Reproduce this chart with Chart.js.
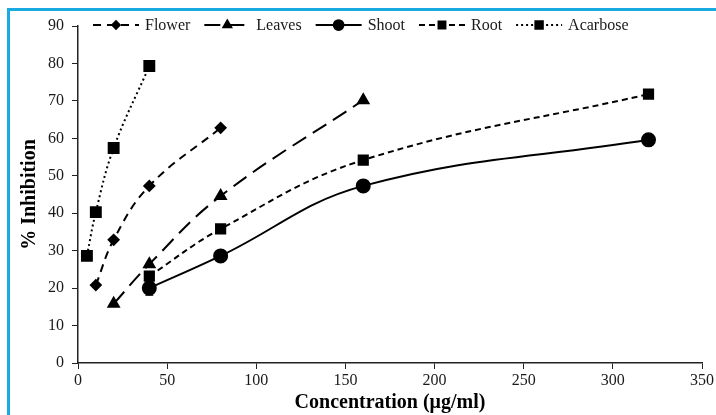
<!DOCTYPE html>
<html>
<head>
<meta charset="utf-8">
<script src="https://cdn.jsdelivr.net/npm/chart.js@4"></script>
<style>
    body { margin: 0; background: #fff; }
    #frame {
        position: absolute;
        left: 7px;
        top: 8px;
        width: 760px;
        height: 460px;
        border-left: 3px solid #1aaae2;
        border-top: 3px solid #1aaae2;
    }
    #wrap { position: absolute; left: 0; top: 0; width: 716px; height: 415px; }
</style>
</head>
<body>
<div id="frame"></div>
<div id="wrap"><canvas id="chart" width="716" height="415"></canvas></div>
<script>
// concentrations (µg/ml)
const concAcarbose = [5, 10, 20, 40];
const concFlower = [10, 20, 40, 80];
const concLeaves = [20, 40, 80, 160];
const concPlant = [40, 80, 160, 320];

// % inhibition
const flower = [20.8, 32.9, 47.3, 62.8];
const leaves = [15.8, 26.4, 44.6, 70.2];
const shoot = [20.0, 28.6, 47.3, 59.6];
const shootErr = [1.9, 0, 0, 0];
const root = [23.2, 35.8, 54.2, 71.8];
const acarbose = [28.6, 40.3, 57.4, 79.3];

const xTicks = [0, 50, 100, 150, 200, 250, 300, 350];
const yTicks = [0, 10, 20, 30, 40, 50, 60, 70, 80, 90];

const toPoints = (xs, ys) => xs.map((x, i) => ({ x: x, y: ys[i] }));

const serif = '"Liberation Serif", "Times New Roman", serif';

// legend with line sample + marker, like the Excel one
const lineLegend = {
    id: 'lineLegend',
    afterDraw(chart) {
        const ctx = chart.ctx;
        const y = 25;
        let x = 93;
        ctx.save();
        ctx.font = '16px ' + serif;
        ctx.textBaseline = 'middle';
        chart.data.datasets.forEach(ds => {
            ctx.strokeStyle = '#000';
            ctx.lineWidth = ds.borderWidth;
            ctx.setLineDash(ds.borderDash || []);
            ctx.beginPath();
            ctx.moveTo(x, y);
            ctx.lineTo(x + 46, y);
            ctx.stroke();
            ctx.setLineDash([]);
            ctx.fillStyle = '#000';
            Chart.helpers.drawPoint(ctx, {
                pointStyle: ds.pointStyle,
                radius: ds.pointRadius * 0.75,
                borderWidth: 1,
                rotation: 0
            }, x + 23, y);
            ctx.fill();
            ctx.fillStyle = '#1a1a1a';
            ctx.fillText(ds.label, x + 52, y + 1);
            x += 52 + ctx.measureText(ds.label).width + 14;
        });
        ctx.restore();
    }
};

// error bars drawn through the scales
const errorBars = {
    id: 'errorBars',
    afterDatasetsDraw(chart) {
        const ctx = chart.ctx;
        const xs = chart.scales.x, ys = chart.scales.y;
        ctx.save();
        ctx.strokeStyle = '#000';
        ctx.lineWidth = 1.2;
        concPlant.forEach((c, i) => {
            const e = shootErr[i];
            if (!e) return;
            const px = xs.getPixelForValue(c);
            const top = ys.getPixelForValue(shoot[i] + e);
            const bot = ys.getPixelForValue(shoot[i] - e);
            ctx.beginPath();
            ctx.moveTo(px, top); ctx.lineTo(px, bot);
            ctx.moveTo(px - 4, top); ctx.lineTo(px + 4, top);
            ctx.moveTo(px - 4, bot); ctx.lineTo(px + 4, bot);
            ctx.stroke();
        });
        ctx.restore();
    }
};

const common = {
    borderColor: '#000',
    backgroundColor: '#000',
    pointBackgroundColor: '#000',
    pointBorderColor: '#000',
    borderWidth: 2,
    tension: 0.4,
    fill: false
};

new Chart(document.getElementById('chart'), {
    type: 'line',
    data: {
        datasets: [
            { ...common, label: 'Flower', data: toPoints(concFlower, flower), borderDash: [8, 6], pointStyle: 'rectRot', pointRadius: 5 },
            { ...common, label: 'Leaves', data: toPoints(concLeaves, leaves), borderDash: [16, 8], pointStyle: 'triangle', pointRadius: 6 },
            { ...common, label: 'Shoot', data: toPoints(concPlant, shoot), pointStyle: 'circle', pointRadius: 6.5 },
            { ...common, label: 'Root', data: toPoints(concPlant, root), borderDash: [6, 4], pointStyle: 'rect', pointRadius: 6.5 },
            { ...common, label: 'Acarbose', data: toPoints(concAcarbose, acarbose), borderDash: [2, 3], pointStyle: 'rect', pointRadius: 7 }
        ]
    },
    options: {
        responsive: false,
        animation: false,
        layout: { padding: { top: 26, right: 13, left: 0, bottom: 0 } },
        plugins: {
            legend: { display: false },
            tooltip: { enabled: false }
        },
        scales: {
            x: {
                type: 'linear',
                min: 0,
                max: 350,
                afterBuildTicks: s => { s.ticks = xTicks.map(v => ({ value: v })); },
                afterFit: s => { s.height = 52; },
                border: { display: true, color: '#222', width: 1.5 },
                grid: { drawOnChartArea: false, drawTicks: true, tickLength: 6, color: '#222' },
                ticks: { color: '#1a1a1a', padding: 2, maxRotation: 0, font: { family: serif, size: 16 } },
                title: {
                    display: true,
                    text: 'Concentration (μg/ml)',
                    color: '#000',
                    padding: { top: -7, bottom: 0 },
                    font: { family: serif, size: 20, weight: 'bold' }
                }
            },
            y: {
                min: 0,
                max: 90,
                afterBuildTicks: s => { s.ticks = yTicks.map(v => ({ value: v })); },
                afterFit: s => { s.width = 78; },
                border: { display: true, color: '#222', width: 1.5 },
                grid: { drawOnChartArea: false, drawTicks: true, tickLength: 6, color: '#222' },
                ticks: { color: '#1a1a1a', padding: 8, font: { family: serif, size: 16 } },
                title: {
                    display: true,
                    text: '% Inhibition',
                    color: '#000',
                    padding: { top: 18, bottom: 0 },
                    font: { family: serif, size: 20, weight: 'bold' }
                }
            }
        }
    },
    plugins: [errorBars, lineLegend]
});
</script>
</body>
</html>
